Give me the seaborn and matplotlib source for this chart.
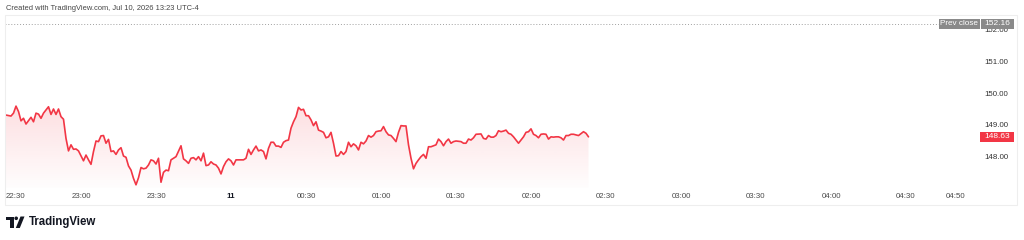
import numpy as np
import pandas as pd
import matplotlib
matplotlib.use("Agg")
import matplotlib.pyplot as plt
import seaborn as sns
from matplotlib.patches import Rectangle, Polygon, Circle
from matplotlib.transforms import IdentityTransform

# ---------------- data ----------------
minutes = [0, 2, 3, 4, 5, 6, 7, 8, 10, 11, 12, 13, 14, 15, 17, 18, 19, 20, 21, 22,
           23, 24, 25, 26, 27, 28, 29, 31, 32, 33, 34, 35, 36, 37, 38, 39, 40, 41, 42, 43,
           44, 45, 46, 47, 48, 49, 50, 51, 52, 53, 54, 55, 56, 57, 58, 59, 60, 61, 62, 63,
           64, 65, 66, 67, 68, 70, 71, 72, 73, 74, 75, 76, 77, 78, 79, 80, 81, 82, 83, 84,
           85, 86, 87, 88, 89, 90, 91, 92, 93, 95, 96, 97, 98, 99, 100, 101, 102, 103, 104, 105,
           106, 107, 108, 109, 110, 111, 112, 113, 114, 115, 116, 117, 118, 119, 120, 121, 122, 123, 124, 125,
           126, 127, 128, 129, 130, 131, 132, 133, 134, 135, 136, 137, 138, 139, 140, 141, 142, 143, 144, 145,
           146, 147, 148, 149, 150, 151, 152, 153, 154, 155, 156, 157, 158, 159, 160, 161, 162, 163, 164, 165,
           166, 167, 168, 169, 170, 171, 172, 173, 174, 175, 176, 177, 178, 179, 180, 182, 183, 184, 185, 186,
           187, 188, 190, 191, 192, 193, 194, 195, 196, 197, 198, 199, 200, 201, 202, 203, 204, 205, 206, 207,
           208, 209, 210, 211, 212, 213, 214, 215, 216, 217, 218, 219, 220, 221, 222, 223, 224, 225, 226, 227,
           228, 229, 231, 232, 233]
prices = [149.31, 149.28, 149.37, 149.59, 149.42, 149.13, 149.21, 149.03, 149.24, 149.10,
          149.37, 149.34, 149.21, 149.37, 149.57, 149.33, 149.50, 149.33, 149.50, 149.26,
          149.18, 148.58, 148.19, 148.38, 148.24, 148.25, 148.19, 147.88, 148.06, 147.91,
          147.77, 148.17, 148.50, 148.48, 148.66, 148.67, 148.43, 148.55, 148.17, 148.19,
          148.08, 148.22, 148.29, 148.03, 147.99, 147.72, 147.59, 147.33, 147.13, 147.35,
          147.67, 147.63, 147.65, 147.75, 147.91, 147.88, 147.78, 147.96, 147.21, 147.52,
          147.59, 147.57, 147.91, 147.96, 148.01, 148.35, 147.94, 147.88, 147.80, 147.96,
          147.98, 147.91, 148.01, 147.88, 148.12, 147.73, 147.75, 147.85, 147.78, 147.75,
          147.65, 147.47, 147.70, 147.85, 147.94, 147.88, 147.75, 147.91, 147.91, 147.91,
          147.96, 148.24, 148.08, 148.22, 148.34, 148.19, 148.22, 148.17, 147.94, 148.27,
          148.46, 148.46, 148.34, 148.34, 148.30, 148.46, 148.51, 148.53, 148.90, 149.10,
          149.26, 149.55, 149.47, 149.49, 149.29, 149.29, 149.16, 148.98, 149.10, 148.84,
          148.81, 148.77, 148.60, 148.63, 148.77, 148.43, 148.03, 148.04, 148.17, 148.08,
          148.17, 148.46, 148.32, 148.41, 148.35, 148.22, 148.46, 148.41, 148.50, 148.67,
          148.62, 148.67, 148.79, 148.81, 148.82, 148.95, 148.79, 148.69, 148.67, 148.58,
          148.48, 148.77, 148.98, 148.97, 148.97, 148.38, 147.96, 147.63, 147.80, 147.91,
          148.01, 148.08, 147.96, 148.32, 148.32, 148.35, 148.38, 148.56, 148.48, 148.35,
          148.48, 148.56, 148.43, 148.48, 148.50, 148.48, 148.43, 148.43, 148.56, 148.53,
          148.60, 148.71, 148.72, 148.58, 148.56, 148.67, 148.62, 148.62, 148.67, 148.82,
          148.79, 148.81, 148.84, 148.74, 148.71, 148.63, 148.53, 148.43, 148.53, 148.63,
          148.77, 148.79, 148.88, 148.71, 148.67, 148.60, 148.71, 148.72, 148.71, 148.56,
          148.63, 148.62, 148.63, 148.63, 148.60, 148.53, 148.67, 148.67, 148.71, 148.71,
          148.69, 148.67, 148.79, 148.74, 148.63]
prev_close = 152.16
last_price = 148.63
y_ticks = [148.0, 149.0, 150.0, 151.0, 152.0]
x_tick_minutes = [0, 30, 60, 90, 120, 150, 180, 210, 240, 270, 300, 330, 360, 380]
x_tick_labels = ["22:30", "23:00", "23:30", "11", "00:30", "01:00", "01:30", "02:00",
                 "02:30", "03:00", "03:30", "04:00", "04:30", "04:50"]
header = "Created with TradingView.com, Jul 10, 2026 13:23 UTC-4"
brand = "TradingView"

# ---------------- style ----------------
sns.set_style("white")
plt.rcParams['font.family'] = ['Liberation Sans', 'DejaVu Sans']

W, H = 1024, 240
RED = "#F23645"
GRAY_BOX = "#8a8a8a"

fig = plt.figure(figsize=(W / 100, H / 100), dpi=100)
fig.patch.set_facecolor("white")


def fr(x0, y0, x1, y1):
    return [x0 / W, 1 - y1 / H, (x1 - x0) / W, (y1 - y0) / H]


# panel border
fig.patches.append(Rectangle((5, H - 205), 1012, 190, transform=IdentityTransform(),
                             fill=False, edgecolor="#eeeeee", lw=0.8, zorder=0))

ax = fig.add_axes(fr(5, 14, 968, 188))
ax.set_facecolor("none")
df = pd.DataFrame({"t": minutes, "price": prices})
ymin, ymax = 147.03, 152.47

# gradient area under the line
poly = ax.fill_between(df["t"], df["price"], ymin, color="none", lw=0)
path = poly.get_paths()[0]
rgba = np.zeros((256, 1, 4))
rgba[..., 0] = 242 / 255
rgba[..., 1] = 54 / 255
rgba[..., 2] = 69 / 255
rgba[..., 3] = np.linspace(0.01, 0.16, 256).reshape(-1, 1)
im = ax.imshow(rgba, extent=[df["t"].min(), df["t"].max(), ymin, df["price"].max()],
               origin="lower", aspect="auto", zorder=1, interpolation="bilinear")
im.set_clip_path(path, transform=ax.transData)

sns.lineplot(data=df, x="t", y="price", ax=ax, color=RED, lw=1.2, zorder=3)

ax.axhline(prev_close, color="#a0a0a0", ls=(0, (1, 2)), lw=0.7, zorder=2)

ax.set_xlim(-0.4, 384.8)
ax.set_ylim(ymin, ymax)
for s in ax.spines.values():
    s.set_visible(False)
ax.set_xlabel("")
ax.set_ylabel("")

ax.yaxis.tick_right()
ax.set_yticks(y_ticks, [f"{v:.2f}" for v in y_ticks])
ax.tick_params(axis="y", length=0, pad=12, labelsize=5.7, labelcolor="#333333")

ax.set_xticks(x_tick_minutes, x_tick_labels)
ax.tick_params(axis="x", length=0, pad=3.3, labelsize=5.7, labelcolor="#4a4a4a")
xl = ax.get_xticklabels()
xl[0].set_horizontalalignment("left")
xl[3].set_fontweight("bold")
xl[3].set_color("#131722")

# price labels on the scale (positioned via the data transform)
def ypix(v):
    return ax.transData.transform((0, v))[1]


yp = ypix(prev_close)
fig.patches.append(Rectangle((939, yp - 4.7), 40.5, 9.4, transform=IdentityTransform(),
                             facecolor=GRAY_BOX, edgecolor="none", zorder=5))
fig.patches.append(Rectangle((980.5, yp - 4.7), 33.5, 9.4, transform=IdentityTransform(),
                             facecolor=GRAY_BOX, edgecolor="none", zorder=5))
fig.text(959.2 / W, yp / H, "Prev close", color="white", fontsize=5.9,
         ha="center", va="center", zorder=6)
fig.text(997.5 / W, yp / H, f"{prev_close:.2f}", color="white", fontsize=6.0,
         ha="center", va="center", zorder=6)

yl = ypix(last_price)
fig.patches.append(Rectangle((980, yl - 5), 34, 10, transform=IdentityTransform(),
                             facecolor=RED, edgecolor="none", zorder=5))
fig.text(997 / W, yl / H, f"{last_price:.2f}", color="white", fontsize=6.0,
         ha="center", va="center", zorder=6)

# header
fig.text(6 / W, 1 - 8.5 / H, header, fontsize=5.4, color="#444444", ha="left", va="center")

# brand logo + text
def P(pts, **kw):
    fig.patches.append(Polygon([(x, H - y) for x, y in pts], closed=True,
                               transform=IdentityTransform(), facecolor="#131722",
                               edgecolor="none", **kw))


P([(6, 216.5), (13.5, 216.5), (13.5, 228), (10, 228), (10, 219.8), (6, 219.8)])
fig.patches.append(Circle((16.2, H - 218.3), 1.8, transform=IdentityTransform(),
                          facecolor="#131722", edgecolor="none"))
P([(20.5, 216.5), (24.5, 216.5), (19.8, 228), (15.8, 228)])
fig.text(29 / W, 1 - 222.5 / H, brand, fontsize=8.3, fontweight="bold",
         color="#131722", ha="left", va="center")

fig.savefig("out.png", dpi=100, facecolor="white")
